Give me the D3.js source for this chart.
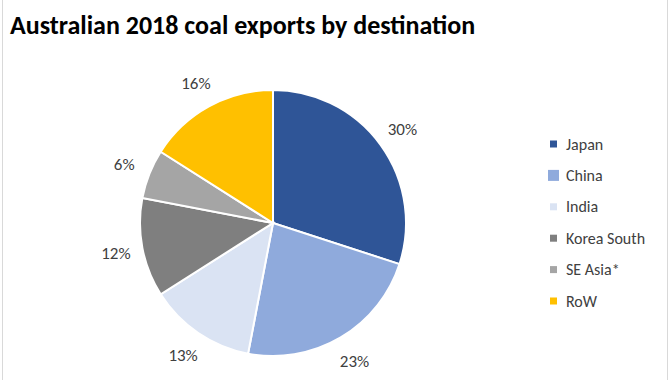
<!DOCTYPE html>
<html>
<head>
<meta charset="utf-8">
<script src="https://cdn.jsdelivr.net/npm/d3@7"></script>
<style>
  html, body { margin: 0; padding: 0; background: #fff; }
  svg { display: block; font-family: Calibri, Carlito, "Open Sans", sans-serif; }
</style>
</head>
<body>
<svg id="chart" width="670" height="380"></svg>
<script>
'use strict';
const categories = ['Japan', 'China', 'India', 'Korea South', 'SE Asia*', 'RoW'];
const shares = [30, 23, 13, 12, 6, 16];
const labels = ['30%', '23%', '13%', '12%', '6%', '16%'];
const colours = ['#2f5597', '#8faadc', '#dae3f3', '#7f7f7f', '#a5a5a5', '#ffc000'];

const width = 670, height = 380;
const centre = { x: 273, y: 223 };
const radius = 133;

const svg = d3.select('#chart');

// frame lines left and right
svg.append('line').attr('x1', 2.5).attr('x2', 2.5).attr('y1', 0).attr('y2', height)
    .attr('stroke', '#d9d9d9');
svg.append('line').attr('x1', 667.5).attr('x2', 667.5).attr('y1', 0).attr('y2', height)
    .attr('stroke', '#d9d9d9');

svg.append('text')
    .attr('x', 10)
    .attr('y', 34)
    .attr('font-size', 26)
    .attr('font-weight', 'bold')
    .attr('fill', '#000')
    .text('Australian 2018 coal exports by destination');

const data = categories.map((c, i) => ({ name: c, value: shares[i], label: labels[i], colour: colours[i] }));

const pie = d3.pie().sort(null).value(d => d.value);
const arc = d3.arc().innerRadius(0).outerRadius(radius);
const labelArc = d3.arc().innerRadius(radius + 27).outerRadius(radius + 27);

const g = svg.append('g').attr('transform', `translate(${centre.x},${centre.y})`);

const arcs = pie(data);

g.selectAll('path')
    .data(arcs)
    .join('path')
        .attr('d', arc)
        .attr('fill', d => d.data.colour)
        .attr('stroke', '#fff')
        .attr('stroke-width', 2);

g.selectAll('text.pct')
    .data(arcs)
    .join('text')
        .attr('class', 'pct')
        .attr('transform', d => `translate(${labelArc.centroid(d)})`)
        .attr('text-anchor', 'middle')
        .attr('dy', '0.35em')
        .attr('font-size', 17)
        .attr('fill', '#404040')
        .text(d => d.data.label);

// legend
const legendY = d3.scalePoint().domain(categories).range([144, 301]);
const legend = svg.append('g')
    .selectAll('g')
    .data(data)
    .join('g')
        .attr('transform', d => `translate(553,${legendY(d.name)})`);

legend.append('rect')
    .attr('x', d => d.name === 'China' ? -5 : -3)
    .attr('y', d => d.name === 'China' ? -5.5 : -3.5)
    .attr('width', d => d.name === 'China' ? 11 : 7)
    .attr('height', d => d.name === 'China' ? 11 : 7)
    .attr('fill', d => d.colour);

legend.append('text')
    .attr('x', 13)
    .attr('dy', '0.35em')
    .attr('font-size', 16)
    .attr('fill', '#404040')
    .text(d => d.name);
</script>
</body>
</html>
